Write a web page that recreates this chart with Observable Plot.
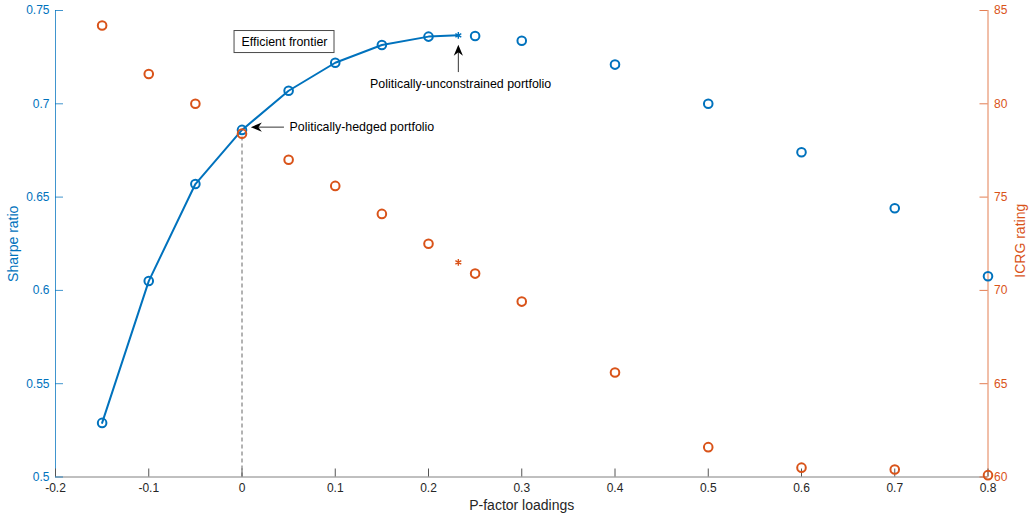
<!DOCTYPE html>
<html>
<head>
<meta charset="utf-8">
<script src="https://cdn.jsdelivr.net/npm/d3@7"></script>
<script src="https://cdn.jsdelivr.net/npm/@observablehq/plot@0.6"></script>
<style>
  html, body { margin: 0; padding: 0; background: #fff; }
</style>
</head>
<body>
<div id="chart"></div>
<script>
// ---- data ----
const loadings = [-0.15, -0.1, -0.05, 0, 0.05, 0.1, 0.15, 0.2, 0.25, 0.3, 0.4, 0.5, 0.6, 0.7, 0.8];
const sharpe   = [0.529, 0.605, 0.657, 0.686, 0.707, 0.722, 0.7315, 0.736, 0.7363, 0.7338, 0.721, 0.700, 0.674, 0.644, 0.6076];
const icrg     = [84.2, 81.6, 80.0, 78.4, 77.0, 75.6, 74.1, 72.5, 70.9, 69.4, 65.6, 61.6, 60.5, 60.4, 60.1];
const frontierCount = 8; // points on efficient frontier (-0.15 .. 0.2)
const unconstrained = { loading: 0.232, sharpe: 0.7367, icrg: 71.5 };

const xTicks = [-0.2, -0.1, 0, 0.1, 0.2, 0.3, 0.4, 0.5, 0.6, 0.7, 0.8];
const sharpeTicks = [0.5, 0.55, 0.6, 0.65, 0.7, 0.75];
const icrgTicks = [60, 65, 70, 75, 80, 85];

const xLabel = "P-factor loadings";
const yLabelLeft = "Sharpe ratio";
const yLabelRight = "ICRG rating";

// annotations (data coordinates)
const boxLabel = { text: "Efficient frontier", x1: -0.008, x2: 0.0992, y1: 0.7272, y2: 0.739, x: 0.0456, y: 0.733 };
const hedged = { text: "Politically-hedged portfolio", tailX: 0.045, tipX: 0.0095, y: 0.6875, textX: 0.051 };
const unc = { text: "Politically-unconstrained portfolio", x: 0.232, tipY: 0.7317, tailY: 0.717, textY: 0.7105, textX: 0.2345 };

// ---- styles ----
const BLUE = "#0072BD";
const ORANGE = "#D95319";
const GRAY = "#262626";

const W = 1029, H = 522;
const mL = 55, mR = 41.5, mT = 10, mB = 45.5;
const plotW = W - mL - mR, plotH = H - mT - mB;
const TICK = 8;
const ANN = 12.4;

// ICRG mapped onto Sharpe axis: 60..85 -> 0.5..0.75
const toS = r => 0.5 + (r - 60) / 100;

const pts = loadings.map((x, i) => ({ x, s: sharpe[i], r: icrg[i] }));
const frontier = pts.slice(0, frontierCount).map(d => ({ x: d.x, s: d.s }))
  .concat([{ x: unconstrained.loading, s: unconstrained.sharpe }]);
const zeroIdx = loadings.indexOf(0);

// MATLAB-like filled arrowhead, tip at origin, pointing up
const arrowHead = {
  draw(context) {
    context.moveTo(0, 0);
    context.lineTo(4.6, 11);
    context.lineTo(0, 7.5);
    context.lineTo(-4.6, 11);
    context.closePath();
  }
};

const chart = Plot.plot({
  width: W, height: H,
  marginLeft: mL, marginRight: mR, marginTop: mT, marginBottom: mB,
  x: { domain: [-0.2, 0.8], axis: null },
  y: { domain: [0.5, 0.75], axis: null },
  style: { fontFamily: "'Liberation Sans', Arial, Helvetica, sans-serif", fontSize: "12px", background: "#fff", overflow: "visible" },
  marks: [
    // axis lines
    Plot.ruleY([0.5], { stroke: "#808080", strokeWidth: 1 }),
    Plot.ruleX([-0.2], { stroke: BLUE, strokeWidth: 1, strokeOpacity: 0.75 }),
    Plot.ruleX([0.8], { stroke: ORANGE, strokeWidth: 1, strokeOpacity: 0.75 }),
    // inward ticks
    Plot.tickX(xTicks, { x: d => d, insetTop: plotH - TICK, stroke: "#555", strokeWidth: 1 }),
    Plot.tickY(sharpeTicks, { y: d => d, insetRight: plotW - TICK, stroke: BLUE, strokeWidth: 1, strokeOpacity: 0.75 }),
    Plot.tickY(icrgTicks, { y: d => toS(d), insetLeft: plotW - TICK, stroke: ORANGE, strokeWidth: 1, strokeOpacity: 0.75 }),
    // tick labels
    Plot.text(xTicks, { x: d => d, frameAnchor: "bottom", dy: 14.5, text: d => String(d), fill: GRAY, fontSize: 12 }),
    Plot.text(sharpeTicks, { y: d => d, frameAnchor: "left", dx: -6, textAnchor: "end", text: d => String(d), fill: BLUE, fontSize: 12 }),
    Plot.text(icrgTicks, { y: d => toS(d), frameAnchor: "right", dx: 6, textAnchor: "start", text: d => String(d), fill: ORANGE, fontSize: 12 }),
    // axis titles
    Plot.text([xLabel], { frameAnchor: "bottom", dy: 33, text: d => d, fill: GRAY, fontSize: 14 }),
    Plot.text([yLabelLeft], { frameAnchor: "left", textAnchor: "middle", dx: -41.5, rotate: -90, text: d => d, fill: BLUE, fontSize: 14 }),
    Plot.text([yLabelRight], { frameAnchor: "right", textAnchor: "middle", dx: 32.5, dy: -3, rotate: -90, text: d => d, fill: ORANGE, fontSize: 14 }),
    // dashed reference at zero loading
    Plot.ruleX([0], { y1: 0.5, y2: toS(icrg[zeroIdx]), stroke: "#555", strokeWidth: 0.9, strokeDasharray: "4,3" }),
    // efficient frontier
    Plot.line(frontier, { x: "x", y: "s", stroke: BLUE, strokeWidth: 2 }),
    // points
    Plot.dot(pts, { x: "x", y: "s", r: 4.3, stroke: BLUE, strokeWidth: 2, fill: "none" }),
    Plot.dot(pts, { x: "x", y: d => toS(d.r), r: 4.3, stroke: ORANGE, strokeWidth: 2, fill: "none" }),
    Plot.dot([unconstrained], { x: "loading", y: "sharpe", symbol: "asterisk", r: 3.2, stroke: BLUE, strokeWidth: 1.4 }),
    Plot.dot([unconstrained], { x: "loading", y: d => toS(d.icrg), symbol: "asterisk", r: 3.2, stroke: ORANGE, strokeWidth: 1.4 }),
    // annotation box
    Plot.rect([boxLabel], { x1: "x1", x2: "x2", y1: "y1", y2: "y2", fill: "#fff", stroke: "#4a4a4a", strokeWidth: 1 }),
    Plot.text([boxLabel], { x: "x", y: "y", text: "text", fill: "#000", fontSize: ANN }),
    // hedged arrow
    Plot.link([hedged], { x1: "tailX", x2: d => d.tipX + 0.006, y1: "y", y2: "y", stroke: "#000", strokeWidth: 0.8 }),
    Plot.dot([hedged], { x: "tipX", y: "y", symbol: arrowHead, rotate: -90, fill: "#000", stroke: "none" }),
    Plot.text([hedged], { x: "textX", y: "y", text: "text", textAnchor: "start", fill: "#000", fontSize: ANN }),
    // unconstrained arrow
    Plot.link([unc], { x1: "x", x2: "x", y1: "tailY", y2: d => d.tipY - 0.003, stroke: "#000", strokeWidth: 0.8 }),
    Plot.dot([unc], { x: "x", y: "tipY", symbol: arrowHead, fill: "#000", stroke: "none" }),
    Plot.text([unc], { x: "textX", y: "textY", text: "text", fill: "#000", fontSize: ANN })
  ]
});

document.getElementById("chart").appendChild(chart);
</script>
</body>
</html>
